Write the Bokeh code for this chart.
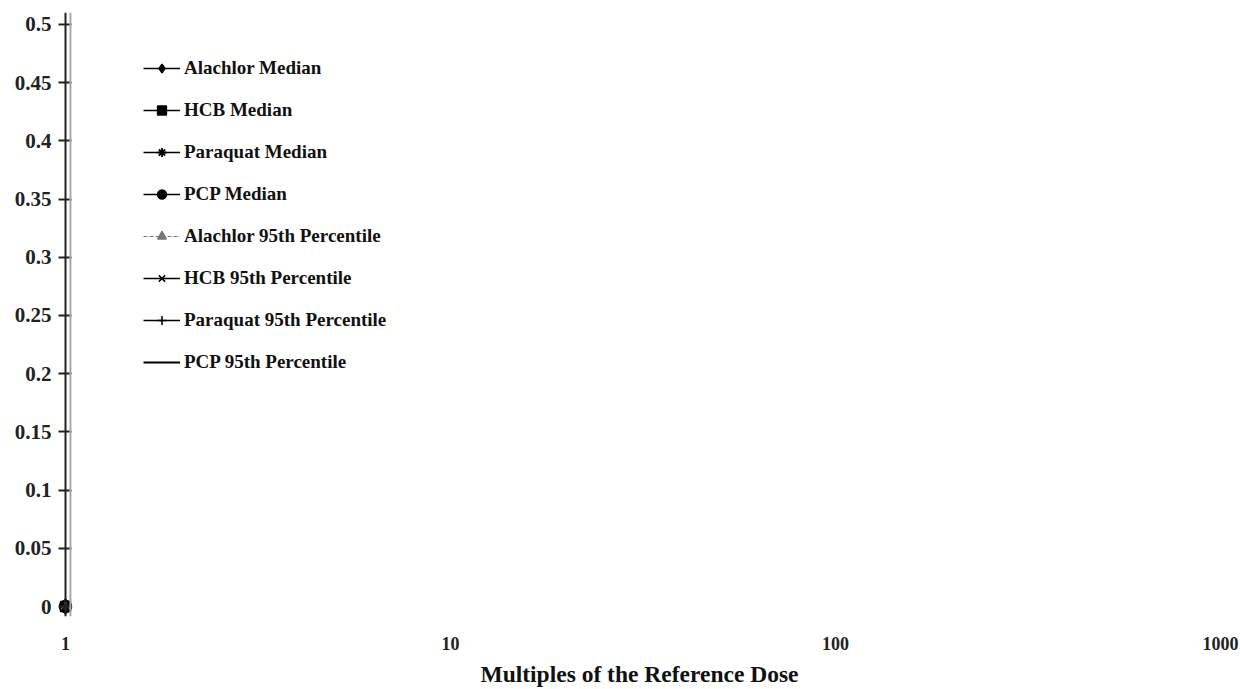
from bokeh.plotting import figure
from bokeh.models import Range1d, FixedTicker, Span, Legend, LegendItem
from bokeh.embed import file_html
from bokeh.resources import INLINE

# ---- data ----
dose = [1]                      # multiples of the reference dose
alachlor_median = [0.0]
hcb_median = [0.0]
paraquat_median = [0.0]
pcp_median = [0.0]
alachlor_p95 = [0.0]
hcb_p95 = [0.0]
paraquat_p95 = [0.0]
pcp_p95 = [0.0]

series_names = ["Alachlor Median", "HCB Median", "Paraquat Median", "PCP Median",
                "Alachlor 95th Percentile", "HCB 95th Percentile",
                "Paraquat 95th Percentile", "PCP 95th Percentile"]

y_ticks = [0, 0.05, 0.1, 0.15, 0.2, 0.25, 0.3, 0.35, 0.4, 0.45, 0.5]
y_tick_labels = ["0", "0.05", "0.1", "0.15", "0.2", "0.25", "0.3", "0.35", "0.4", "0.45", "0.5"]
x_ticks = [1, 10, 100, 1000]
x_tick_labels = ["1", "10", "100", "1000"]

SERIF = "Liberation Serif"

p = figure(width=1240, height=689, x_axis_type="log",
           x_range=Range1d(0.959, 1000), y_range=Range1d(-0.00856, 0.51027),
           output_backend="svg", toolbar_location=None,
           min_border_left=58, min_border_right=20, min_border_top=12, min_border_bottom=71)
p.outline_line_color = None
p.grid.visible = False
p.background_fill_color = "white"
p.border_fill_color = "white"

# y axis (its line is drawn at dose = 1 by a span; ticks cross it)
ya = p.yaxis[0]
ya.ticker = FixedTicker(ticks=y_ticks)
ya.major_label_overrides = {t: l for t, l in zip(y_ticks, y_tick_labels)}
ya.axis_line_color = None
ya.major_tick_line_color = "#222222"
ya.major_tick_line_width = 2
ya.major_tick_out = 0
ya.major_tick_in = 13
ya.minor_tick_line_color = None
ya.major_label_standoff = 7
ya.major_label_text_font = SERIF
ya.major_label_text_font_style = "bold"
ya.major_label_text_font_size = "21px"
ya.major_label_text_color = "#222222"

# x axis
xa = p.xaxis[0]
xa.ticker = FixedTicker(ticks=x_ticks)
xa.major_label_overrides = {t: l for t, l in zip(x_ticks, x_tick_labels)}
xa.axis_line_color = None
xa.major_tick_line_color = None
xa.minor_tick_line_color = None
xa.major_label_standoff = 14
xa.major_label_text_font = SERIF
xa.major_label_text_font_style = "bold"
xa.major_label_text_font_size = "18px"
xa.major_label_text_color = "#222222"
xa.axis_label = "Multiples of the Reference Dose"
xa.axis_label_text_font = SERIF
xa.axis_label_text_font_style = "bold"
xa.axis_label_text_font_size = "23.5px"
xa.axis_label_text_color = "#111111"
xa.axis_label_standoff = 8

# value axis line at dose = 1 and the light line beside it
p.add_layout(Span(location=1.03, dimension="height", line_color="#aaaaaa", line_width=2))
p.add_layout(Span(location=1, dimension="height", line_color="#222222", line_width=2))

styles = [
    (alachlor_median, "diamond", 15, "black", "solid", 1.5, 1.5),
    (hcb_median, "square", 10, "black", "solid", 1.5, 1.5),
    (paraquat_median, "asterisk", 12, "black", "solid", 1.5, 1.8),
    (pcp_median, "circle", 12, "black", "solid", 1.5, 1.5),
    (alachlor_p95, "triangle", 8, "#777777", "4 2", 1.2, 1.5),
    (hcb_p95, "x", 10, "black", "solid", 1.5, 1.5),
    (paraquat_p95, "cross", 13, "black", "solid", 1.5, 1.5),
    (pcp_p95, None, 0, "black", "solid", 2, 1.5),
]

items = []
for name, (vals, marker, size, color, dash, lw, mlw) in zip(series_names, styles):
    rs = [p.line(dose, vals, line_color=color, line_dash=dash, line_width=lw)]
    if marker is not None:
        rs.append(p.scatter(dose, vals, marker=marker, size=size, fill_color=color,
                            line_color=color, line_width=mlw))
    items.append(LegendItem(label=name, renderers=rs))

legend = Legend(items=items, location=(85, 243))
legend.border_line_color = None
legend.background_fill_alpha = 0
legend.padding = 0
legend.margin = 0
legend.spacing = 20
legend.glyph_width = 37
legend.glyph_height = 22
legend.label_height = 22
legend.label_standoff = 4
legend.label_text_font = SERIF
legend.label_text_font_style = "bold"
legend.label_text_font_size = "19px"
legend.label_text_color = "#111111"
p.add_layout(legend, "center")

open("out.html", "w").write(file_html(p, INLINE))
